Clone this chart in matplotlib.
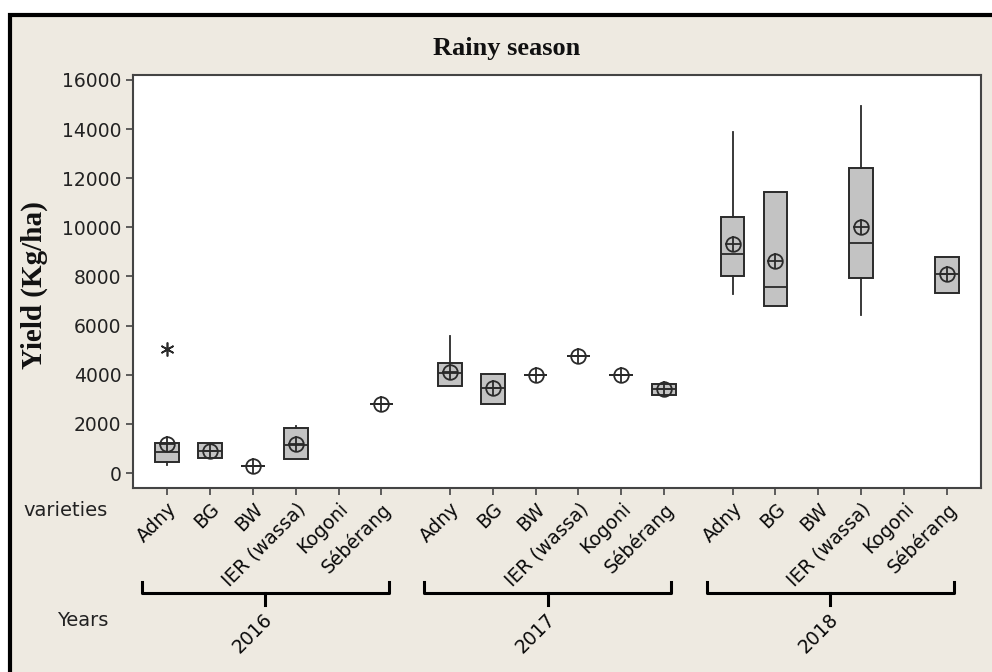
import numpy as np
import matplotlib
matplotlib.use("Agg")
import matplotlib.pyplot as plt
from matplotlib.patches import Rectangle

years = ["2016", "2017", "2018"]
varieties = ["Adny", "BG", "BW", "IER (wassa)", "Kogoni", "Sébérang"]

# yield (kg/ha) box stats per year, one entry per variety (None = no data)
q1_2016 = [460, 620, 285, 560, None, 2800]
med_2016 = [870, 900, 285, 1140, None, 2800]
q3_2016 = [1230, 1210, 285, 1820, None, 2800]
lo_2016 = [330, 620, 285, 560, None, 2800]
hi_2016 = [1230, 1210, 285, 1910, None, 2800]
mean_2016 = [1180, 900, 285, 1180, None, 2800]
out_2016 = [[5050], [], [], [], [], []]

q1_2017 = [3560, 2800, 3990, 4780, 3990, 3180]
med_2017 = [4060, 3450, 3990, 4780, 3990, 3410]
q3_2017 = [4470, 4030, 3990, 4780, 3990, 3610]
lo_2017 = [3560, 2800, 3990, 4780, 3990, 3180]
hi_2017 = [5580, 4030, 3990, 4780, 3990, 3610]
mean_2017 = [4130, 3450, 3990, 4780, 3990, 3410]
out_2017 = [[], [], [], [], [], []]

q1_2018 = [8000, 6800, None, 7930, None, 7320]
med_2018 = [8910, 7590, None, 9380, None, 8100]
q3_2018 = [10410, 11430, None, 12410, None, 8790]
lo_2018 = [7280, 6800, None, 6440, None, 7320]
hi_2018 = [13900, 11430, None, 14950, None, 8790]
mean_2018 = [9330, 8640, None, 10030, None, 8100]
out_2018 = [[], [], [], [], [], []]

q1 = q1_2016 + q1_2017 + q1_2018
med = med_2016 + med_2017 + med_2018
q3 = q3_2016 + q3_2017 + q3_2018
lo = lo_2016 + lo_2017 + lo_2018
hi = hi_2016 + hi_2017 + hi_2018
means = mean_2016 + mean_2017 + mean_2018
outs = out_2016 + out_2017 + out_2018

group_step = 6.6
positions = [g * group_step + i for g in range(len(years)) for i in range(len(varieties))]
labels = varieties * len(years)

BG = "#eeeae1"
DARK = "#2a2a2a"
FS = 13.5

fig = plt.figure(figsize=(9.92, 6.72), dpi=100, facecolor="white")
fig.patches.append(Rectangle((10 / 992, -0.1), 1.2, 1 - 15 / 672 + 0.1,
                             transform=fig.transFigure, facecolor=BG,
                             edgecolor="black", lw=3, zorder=-1))

ax = fig.add_axes([133 / 992, 1 - 488 / 672, (981 - 133) / 992, (488 - 75) / 672])
ax.set_facecolor("white")

stats, pos_ok = [], []
for k in range(len(positions)):
    if q1[k] is None:
        continue
    stats.append(dict(q1=q1[k], med=med[k], q3=q3[k], whislo=lo[k], whishi=hi[k],
                      fliers=np.array(outs[k])))
    pos_ok.append(positions[k])

ax.bxp(stats, positions=pos_ok, widths=0.55, patch_artist=True, showcaps=False,
       boxprops=dict(facecolor="#c3c3c3", edgecolor=DARK, linewidth=1.4),
       medianprops=dict(color=DARK, linewidth=1.3),
       whiskerprops=dict(color=DARK, linewidth=1.3),
       flierprops=dict(marker=(6, 2, 0), markersize=10, markeredgecolor=DARK,
                       markeredgewidth=1.2))

mx = [p for p, m in zip(positions, means) if m is not None]
my = [m for m in means if m is not None]
ax.plot(mx, my, "o", ms=10.5, mfc="none", mec=DARK, mew=1.3, zorder=5)
ax.plot(mx, my, "+", ms=12, mec=DARK, mew=1.3, zorder=5)

ax.set_xlim(-0.8, 19.0)
ax.set_ylim(-610, 16200)
ax.set_yticks(np.arange(0, 16001, 2000))
ax.set_xticks(positions)
ax.set_xticklabels(labels, rotation=45, ha="right", va="top", rotation_mode="anchor",
                   fontsize=FS, color="#0a0a0a")
ax.tick_params(axis="y", labelsize=FS, labelcolor="#222222", length=5,
               width=1.2, color="#444444")
ax.tick_params(axis="x", length=5, width=1.2, color="#444444", pad=3)
for s in ax.spines.values():
    s.set_color("#444444")
    s.set_linewidth(1.5)

# year brackets under the variety labels
tr = ax.get_xaxis_transform()
for g, yr in enumerate(years):
    x0 = positions[g * 6] - 0.6
    x1 = positions[g * 6 + 5] + 0.17
    xc = (x0 + x1) / 2
    ax.plot([x0, x0, x1, x1], [-0.228, -0.254, -0.254, -0.228], color="black",
            lw=2.2, transform=tr, clip_on=False, solid_joinstyle="round")
    ax.plot([xc, xc], [-0.254, -0.283], color="black", lw=2.2, transform=tr,
            clip_on=False)
    ax.text(xc - 0.05, -0.295, yr, rotation=45, ha="right", va="top",
            rotation_mode="anchor", fontsize=FS, color="#0a0a0a", transform=tr)

fig.text(507 / 992, 1 - 48 / 672, "Rainy season", family="Liberation Serif",
         fontweight="bold", fontsize=19, ha="center", va="center", color="#111111")
fig.text(34 / 992, 1 - 285 / 672, "Yield (Kg/ha)", family="Liberation Serif",
         fontweight="bold", fontsize=21, rotation=90, ha="center", va="center",
         color="#111111")
fig.text(108 / 992, 1 - 510 / 672, "varieties", fontsize=FS + 0.5, ha="right",
         va="center", color="#222222")
fig.text(108 / 992, 1 - 621 / 672, "Years", fontsize=FS + 0.5, ha="right",
         va="center", color="#222222")

fig.savefig("out.png", dpi=100, facecolor=fig.get_facecolor())
